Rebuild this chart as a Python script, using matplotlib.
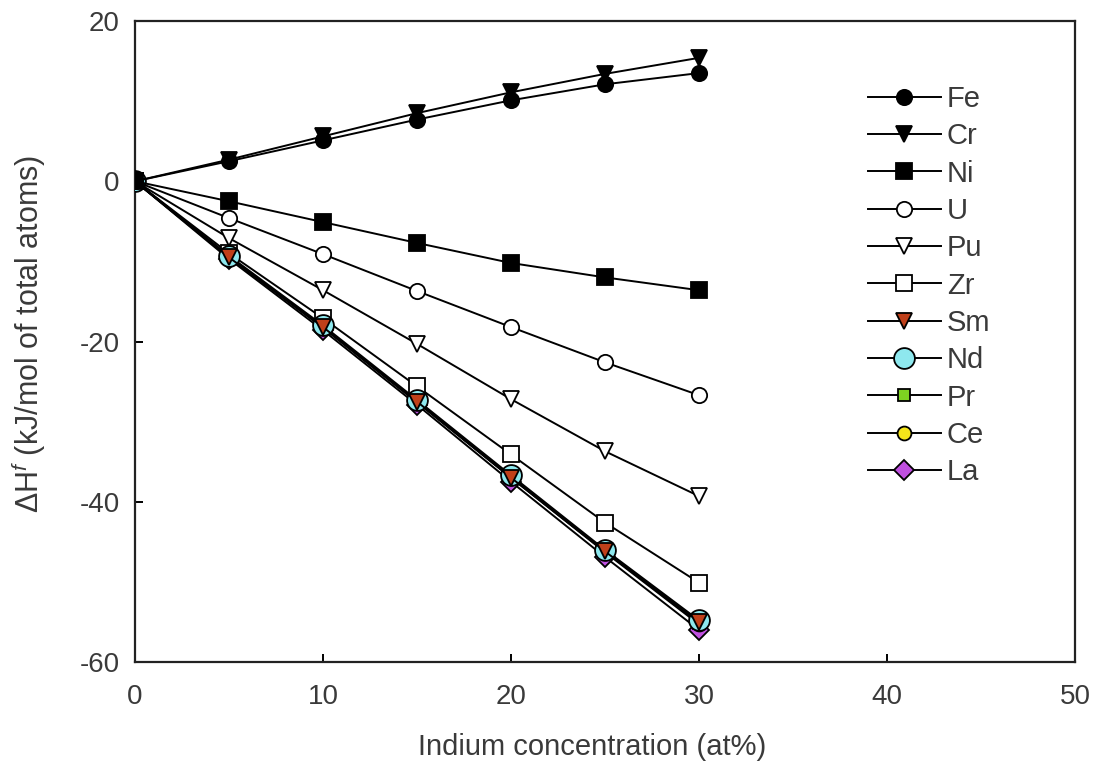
import matplotlib
matplotlib.use('Agg')
import matplotlib.pyplot as plt

plt.rcParams['font.family'] = ['Liberation Sans', 'DejaVu Sans']
plt.rcParams['axes.unicode_minus'] = False
plt.rcParams['mathtext.fontset'] = 'custom'
plt.rcParams['mathtext.rm'] = 'Liberation Sans'
plt.rcParams['mathtext.it'] = 'Liberation Sans:italic'

# indium concentration (at%)
conc = [0, 5, 10, 15, 20, 25, 30]

# formation enthalpy (kJ/mol of total atoms)
fe = [0, 2.5, 5.1, 7.7, 10.1, 12.1, 13.5]
cr = [0, 2.7, 5.6, 8.5, 11.1, 13.4, 15.4]
ni = [0, -2.5, -5.1, -7.7, -10.2, -12.0, -13.6]
u = [0, -4.6, -9.1, -13.7, -18.2, -22.6, -26.7]
pu = [0, -7.1, -13.6, -20.3, -27.2, -33.7, -39.3]
zr = [0, -9.0, -17.1, -25.6, -34.1, -42.6, -50.1]
sm = [0, -9.5, -18.2, -27.5, -37.0, -46.2, -55.0]
nd = [0, -9.3, -18.0, -27.3, -36.7, -46.0, -54.8]
pr = [0, -9.4, -18.2, -27.5, -36.9, -46.2, -55.1]
ce = [0, -9.5, -18.3, -27.6, -37.0, -46.3, -55.3]
la = [0, -9.7, -18.6, -27.9, -37.5, -46.9, -56.0]

# name, values, style, drawing order (higher = on top)
series = [
    ('Fe', fe, dict(marker='o', mfc='black', ms=11), 11),
    ('Cr', cr, dict(marker='v', mfc='black', ms=12), 10),
    ('Ni', ni, dict(marker='s', mfc='black', ms=11), 9),
    ('U', u, dict(marker='o', mfc='white', ms=11), 8),
    ('Pu', pu, dict(marker='v', mfc='white', ms=12), 7),
    ('Zr', zr, dict(marker='s', mfc='white', ms=11), 0),
    ('Sm', sm, dict(marker='v', mfc='#c0401a', ms=12), 6),
    ('Nd', nd, dict(marker='o', mfc='#8ee8ee', ms=15), 5),
    ('Pr', pr, dict(marker='s', mfc='#7ed321', ms=9), 4),
    ('Ce', ce, dict(marker='o', mfc='#f5e61a', ms=10), 3),
    ('La', la, dict(marker='D', mfc='#c050e0', ms=10), 2),
]

txt = '#3a3a3a'

fig = plt.figure(figsize=(10.96, 7.72), dpi=100)
ax = fig.add_axes([135/1096, 110/772, 940/1096, 641/772])

for name, vals, st, order in series:
    ax.plot(conc, vals, color='black', lw=1.4, mec='black', mew=1.3,
            label=name, zorder=3 + order * 0.1, **st)

ax.set_xlim(0, 50)
ax.set_ylim(-60, 20)
ax.set_xticks([0, 10, 20, 30, 40, 50])
ax.set_yticks([-60, -40, -20, 0, 20])
ax.tick_params(direction='in', labelsize=20, length=6, width=1.4,
               labelcolor=txt)
ax.tick_params(axis='x', pad=16)
ax.tick_params(axis='y', pad=11)
for s in ax.spines.values():
    s.set_linewidth(1.6)
    s.set_color('#222222')

ax.set_xlabel('Indium concentration (at%)', fontsize=21, color=txt)
ax.xaxis.set_label_coords(0.486, -0.111)
ax.set_ylabel(r'$\Delta$H$^f$ (kJ/mol of total atoms)', fontsize=22, color=txt)
ax.yaxis.set_label_coords(-0.093, 0.512)

leg = ax.legend(loc='upper left', bbox_to_anchor=(868/1096, 1 - 85/772),
                bbox_transform=fig.transFigure, frameon=False,
                fontsize=21, handlelength=2.5, labelspacing=0.32,
                handletextpad=0.2, borderpad=0, borderaxespad=0)
for t in leg.get_texts():
    t.set_color(txt)

fig.savefig('out.png', dpi=100)
